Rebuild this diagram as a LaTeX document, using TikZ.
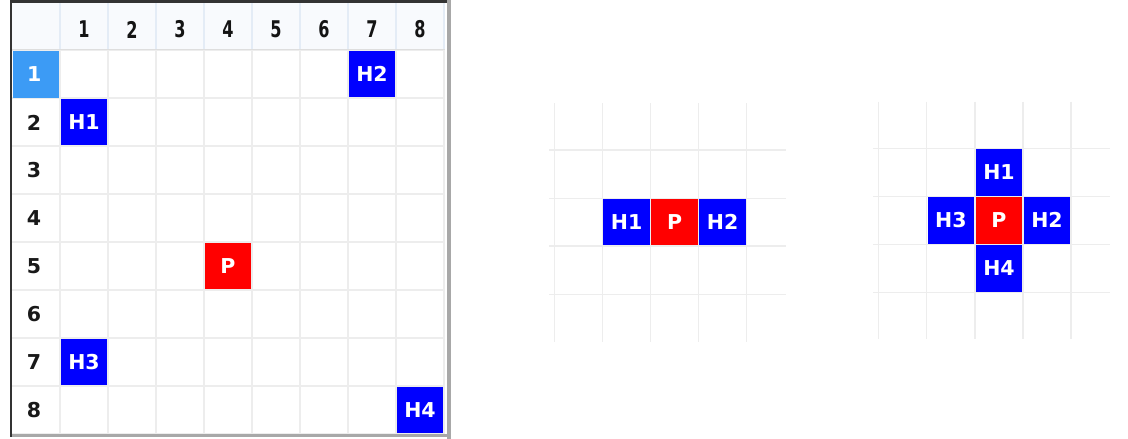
\documentclass[tikz,border=0pt]{standalone}
\usepackage{fontspec}
\setmainfont{Liberation Sans}
\newfontfamily\blockfont{DejaVu Sans}
\definecolor{gridgray}{HTML}{EDEDED}
\definecolor{hdrbg}{HTML}{F8FAFD}
\definecolor{hdrline}{HTML}{E4ECF6}
\definecolor{selblue}{HTML}{3C9BF5}
\definecolor{hblue}{HTML}{0000FF}
\definecolor{pred}{HTML}{FF0000}
\definecolor{bordergray}{HTML}{A8A8A8}
\newcommand{\narrowdigit}[1]{\scalebox{0.7}[1]{#1}}
\begin{document}
\begin{tikzpicture}[x=1pt,y=-1pt,
  gridline/.style={draw=gridgray,line width=1.3pt},
  hdrgrid/.style={draw=hdrline,line width=1.3pt},
  blockcell/.style={minimum width=46.5pt,minimum height=46.5pt,inner sep=0pt,text=white,
     font=\blockfont\bfseries\fontsize{20.5}{22}\selectfont},
  hcell/.style={blockcell,fill=hblue},
  pcell/.style={blockcell,fill=pred},
  colhdr/.style={inner sep=0pt,font=\blockfont\bfseries\fontsize{23}{25}\selectfont,text=black!92},
  rowhdr/.style={inner sep=0pt,font=\blockfont\bfseries\fontsize{20.5}{22}\selectfont,text=black!90}]
\useasboundingbox (0,0) rectangle (1128,439);
% ---------- left table ----------
\fill[white] (11,2) rectangle (445,434);
\fill[hdrbg] (11,2) rectangle (445,50);
\foreach \i in {0,...,8} {
  \draw[gridline] (60+48*\i,50) -- (60+48*\i,434);
  \draw[gridline] (11,50+48*\i) -- (445,50+48*\i);
}
\foreach \i in {0,...,8} {
  \draw[hdrgrid] (60+48*\i,2) -- (60+48*\i,50);
}
\draw[draw=black!13,line width=1.3pt] (11,49.8) -- (445,49.8);
\fill[selblue] (12.5,51) rectangle (59,97.5);
% borders
\draw[bordergray,line width=4.5pt] (449,0) -- (449,439);
\draw[bordergray,line width=3.5pt] (10,435.5) -- (451,435.5);
\draw[black!80,line width=2.2pt] (10.7,0) -- (10.7,437);
\draw[black!80,line width=2.8pt] (10,1.4) -- (447,1.4);
% headers
\foreach \c in {1,...,8} {
  \node[colhdr] (ch\c) at (84+48*\c-48,29.5) {\narrowdigit{\c}};
}
\node[rowhdr,text=white] (rh1) at (34.3,74.5) {1};
\foreach \r in {2,...,8} {
  \node[rowhdr] (rh\r) at (34,74.5+48*\r-48) {\r};
}
% blocks
\node[hcell] (tH2) at (372,74) {H2};
\node[hcell] (tH1) at (84,122) {H1};
\node[pcell] (tP)  at (228,266) {P};
\node[hcell] (tH3) at (84,362) {H3};
\node[hcell] (tH4) at (420,410) {H4};
% ---------- middle grid ----------
\foreach \x in {554.3,602.7,650.7,698.7,746.7}
  \draw[gridline] (\x,103) -- (\x,341.7);
\foreach \y in {150,198.3,246,294.3}
  \draw[gridline] (549,\y) -- (786,\y);
\node[hcell] (mH1) at (626.7,222.2) {H1};
\node[pcell] (mP)  at (674.7,222.2) {P};
\node[hcell] (mH2) at (722.7,222.2) {H2};
% ---------- right grid ----------
\foreach \x in {878.3,926.7,975,1023,1071}
  \draw[gridline] (\x,101.7) -- (\x,339.3);
\foreach \y in {148.3,196.3,244.3,292.3}
  \draw[gridline] (873.3,\y) -- (1110,\y);
\node[hcell] (rH1) at (999,172.3) {H1};
\node[hcell] (rH3) at (950.8,220.3) {H3};
\node[pcell] (rP)  at (999,220.3) {P};
\node[hcell] (rH2) at (1047,220.3) {H2};
\node[hcell] (rH4) at (999,268.3) {H4};
\end{tikzpicture}
\end{document}
